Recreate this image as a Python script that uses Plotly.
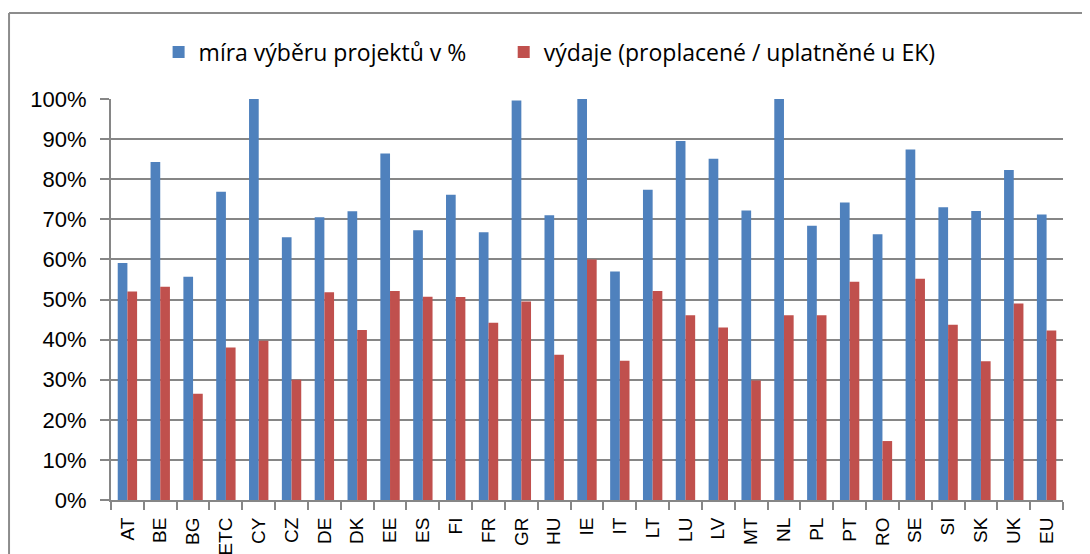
import plotly.graph_objects as go

categories = ["AT", "BE", "BG", "ETC", "CY", "CZ", "DE", "DK", "EE", "ES", "FI", "FR", "GR", "HU",
              "IE", "IT", "LT", "LU", "LV", "MT", "NL", "PL", "PT", "RO", "SE", "SI", "SK", "UK", "EU"]
selection_rate = [0.591, 0.843, 0.557, 0.769, 1.0, 0.655, 0.705, 0.720, 0.864, 0.673, 0.761, 0.668, 0.996, 0.710,
                  1.0, 0.570, 0.774, 0.895, 0.851, 0.722, 1.0, 0.684, 0.742, 0.663, 0.874, 0.730, 0.721, 0.823, 0.712]
expenditure = [0.520, 0.532, 0.265, 0.380, 0.397, 0.300, 0.518, 0.424, 0.521, 0.507, 0.506, 0.442, 0.495, 0.362,
               0.600, 0.347, 0.521, 0.461, 0.430, 0.298, 0.461, 0.461, 0.544, 0.147, 0.552, 0.437, 0.346, 0.490, 0.423]
series_names = ["míra výběru projektů v %", "výdaje (proplacené / uplatněné u EK)"]

BLUE = "#4F81BD"
RED = "#C0504D"
GRID = "#868686"
FRAME = "#8C8C8C"

fig = go.Figure()
fig.add_trace(go.Bar(x=categories, y=selection_rate, name=series_names[0], marker_color=BLUE,
                     marker_line_width=0, legend="legend"))
fig.add_trace(go.Bar(x=categories, y=expenditure, name=series_names[1], marker_color=RED,
                     marker_line_width=0, legend="legend2"))

legend_font = dict(size=23, family="Open Sans, Liberation Sans, sans-serif")
fig.update_layout(
    width=1090, height=554,
    margin=dict(l=103, r=35, t=91, b=62, autoexpand=False),
    paper_bgcolor="white", plot_bgcolor="white",
    barmode="group", bargap=0.41, bargroupgap=0.0,
    font=dict(family="Liberation Sans, Arial, sans-serif", color="black"),
    legend=dict(orientation="h", x=0.05, xanchor="left", y=1.117, yanchor="middle",
                font=legend_font, itemwidth=30, bgcolor="rgba(0,0,0,0)"),
    legend2=dict(orientation="h", x=0.4125, xanchor="left", y=1.117, yanchor="middle",
                 font=legend_font, itemwidth=30, bgcolor="rgba(0,0,0,0)"),
    showlegend=True,
)
fig.update_xaxes(
    type="category", tickangle=-90, tickfont=dict(size=19), automargin=False,
    showline=True, linecolor=GRID, linewidth=2,
    ticks="outside", tickson="boundaries", ticklen=8, tickcolor=GRID, tickwidth=2,
    ticklabelstandoff=8, showgrid=False, mirror=False,
)
fig.update_yaxes(
    range=[0, 1], tickformat=".0%", dtick=0.1, tickfont=dict(size=22), automargin=False,
    showgrid=True, gridcolor=GRID, gridwidth=2,
    showline=True, linecolor=GRID, linewidth=2,
    ticks="outside", ticklen=9, tickcolor=GRID, tickwidth=2, zeroline=False,
    ticklabelstandoff=9,
)
# outer chart frame (top and left edges visible)
fig.add_shape(type="line", xref="paper", yref="paper", x0=-0.1071, x1=1.05, y0=1.2145, y1=1.2145,
              line=dict(color=FRAME, width=2))
fig.add_shape(type="line", xref="paper", yref="paper", x0=-0.1071, x1=-0.1071, y0=-0.2, y1=1.2145,
              line=dict(color=FRAME, width=2))

fig.write_html("out.html")
